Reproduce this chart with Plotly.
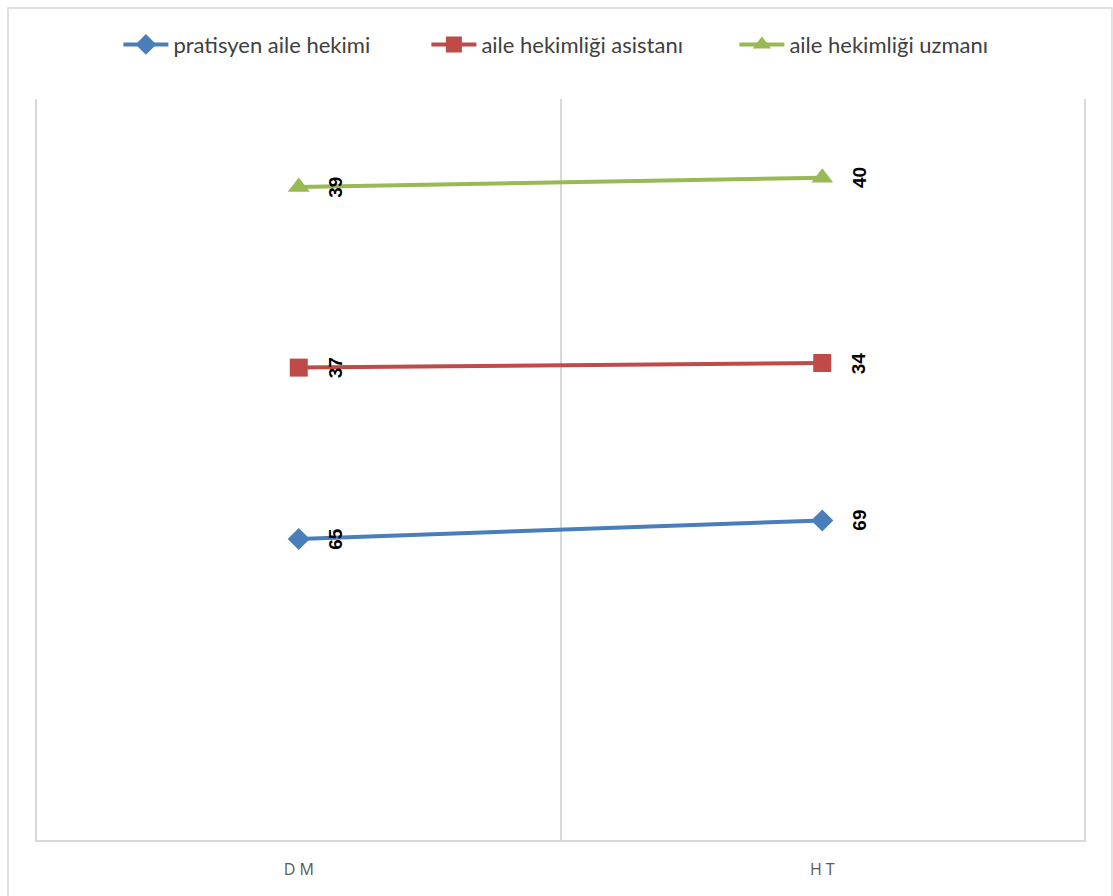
import numpy as np
import plotly.graph_objects as go

categories = ["D M", "H T"]
series_names = ["pratisyen aile hekimi", "aile hekimliği asistanı", "aile hekimliği uzmanı"]
pratisyen = [65, 69]
asistan = [37, 34]
uzman = [39, 40]

colors = ["#4A7EBB", "#BE4B48", "#98B954"]
symbols = ["diamond", "square", "triangle-up"]
sizes = [17, 18, 19]
series_values = [pratisyen, asistan, uzman]

fig = go.Figure()
for name, vals, col, sym, sz in zip(series_names, series_values, colors, symbols, sizes):
    fig.add_trace(go.Scatter(
        x=categories, y=vals, name=name, mode="lines+markers",
        stackgroup="s", fill="none",
        line=dict(color=col, width=4),
        marker=dict(symbol=sym, size=sz, color=col),
    ))

# value labels, rotated, to the right of each stacked point
cum = np.cumsum(np.array(series_values), axis=0)
annotations = []
for vals, tops in zip(series_values, cum):
    for cat, v, top in zip(categories, vals, tops):
        annotations.append(dict(
            x=cat, y=float(top), xref="x", yref="y", text=f"<b>{v}</b>",
            showarrow=False, textangle=-90, xshift=37,
            font=dict(family="Liberation Sans", size=19, color="#000000"),
        ))

fig.update_layout(
    width=1113, height=896,
    margin=dict(l=37, r=29, t=99, b=56, autoexpand=False),
    paper_bgcolor="white", plot_bgcolor="white",
    showlegend=True,
    legend=dict(orientation="h", x=0.519, xanchor="center", y=1.045, yanchor="bottom",
                font=dict(family="Lato", size=22, color="#404040"),
                bgcolor="rgba(0,0,0,0)",
                itemwidth=45, entrywidth=248, entrywidthmode="pixels",
                tracegroupgap=0, traceorder="normal"),
    annotations=annotations,
    shapes=[dict(type="rect", xref="paper", yref="paper",
                 x0=-0.0277, x1=1.0267, y0=-0.09, y1=1.1228,
                 line=dict(color="#D9D9D9", width=1.5), fillcolor="rgba(0,0,0,0)",
                 layer="below")],
)
fig.update_xaxes(type="category", range=[-0.5, 1.5], tickson="boundaries",
                 showgrid=True, gridcolor="#D9D9D9", gridwidth=1.5,
                 showline=True, linecolor="#D9D9D9", linewidth=1.5,
                 ticks="", ticklabelstandoff=14,
                 tickfont=dict(family="Open Sans", size=16, color="#595959"),
                 zeroline=False)
fig.update_yaxes(range=[0, 160], showgrid=False, showticklabels=False,
                 zeroline=False, showline=True, mirror=True,
                 linecolor="#D9D9D9", linewidth=1.5, ticks="")

fig.write_html("out.html")
